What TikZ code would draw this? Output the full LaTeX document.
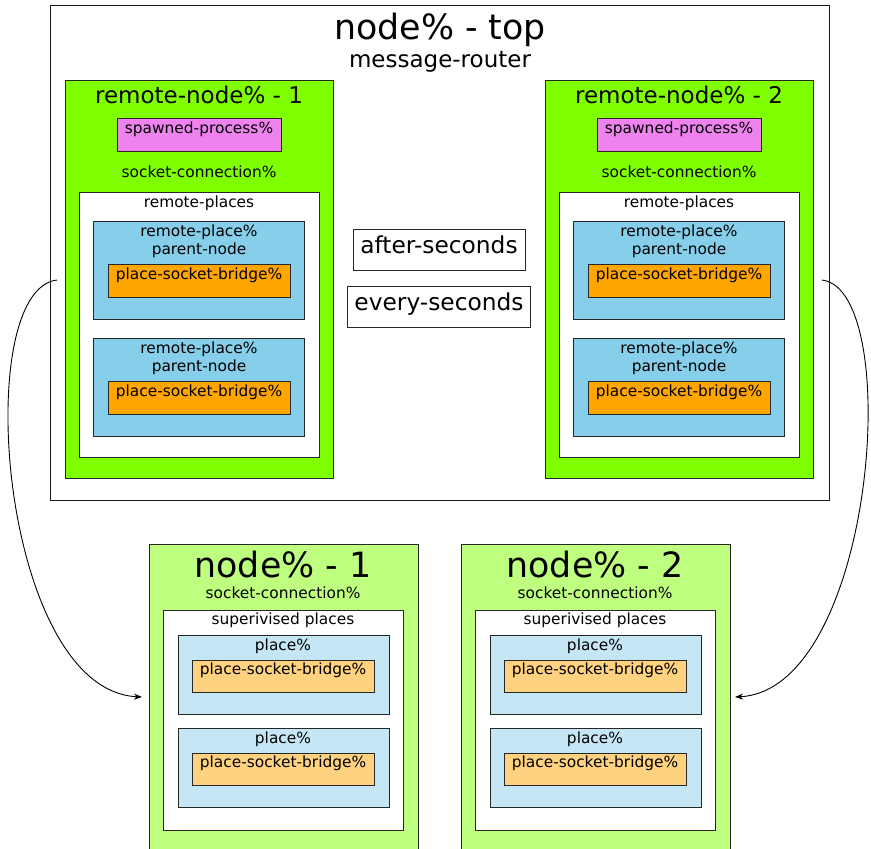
\documentclass[tikz,border=0pt]{standalone}
\usepackage{fontspec}
\setmainfont{DejaVu Sans}
\usepackage{tikz}
\usetikzlibrary{arrows.meta}

\definecolor{remotegreen}{RGB}{127,255,0}
\definecolor{nodegreen}{RGB}{191,255,128}
\definecolor{placeblue}{RGB}{135,206,235}
\definecolor{paleblue}{RGB}{196,230,245}
\definecolor{bridgeorange}{RGB}{255,165,0}
\definecolor{paleorange}{RGB}{255,210,128}
\definecolor{spawnviolet}{RGB}{238,130,238}

\tikzset{
  box/.style={draw=black!85, line width=0.9pt, anchor=north west, inner sep=0pt},
  lbl/.style={anchor=base, inner sep=0pt, font=\fontsize{15.4}{18}\selectfont},
  biglbl/.style={anchor=base, inner sep=0pt, font=\fontsize{34.8}{40}\selectfont},
  midlbl/.style={anchor=base, inner sep=0pt, font=\fontsize{23}{27}\selectfont},
  timer/.style={box, anchor=center, minimum height=41pt, text depth=11pt, font=\fontsize{23.3}{27}\selectfont},
  link/.style={-{Stealth[length=8pt, width=6pt]}, line width=0.9pt},
}

\begin{document}
\begin{tikzpicture}[x=1pt, y=-1pt]
        \useasboundingbox (0,0) rectangle (871,849);

        % the top node
        \node [box, draw=black!90, fill=white, minimum width=779pt, minimum height=495pt] (top) at (50,5) {};
        \node [biglbl] (toptitle) at (440,39) {node\% - top};
        \node [midlbl] (router) at (440,67) {message-router};

        \node [timer, minimum width=172pt] (after) at (439,250) {after-seconds};
        \node [timer, minimum width=183pt] (every) at (439,307) {every-seconds};

        \foreach \i/\dx in {1/0, 2/480} {
          \node [box, fill=remotegreen, minimum width=268pt, minimum height=398pt] (rn\i) at (65+\dx,80) {};
          \node [midlbl] (rntitle\i) at (199+\dx,103) {remote-node\% - \i};
          \node [box, fill=spawnviolet, minimum width=164pt, minimum height=33pt] (spawn\i) at (117+\dx,118) {};
          \node [lbl] (spawntext\i) at (199+\dx,133) {spawned-process\%};
          \node [lbl] (sock\i) at (199+\dx,177) {socket-connection\%};
          \node [box, fill=white, minimum width=240pt, minimum height=265pt] (rplaces\i) at (79+\dx,192) {};
          \node [lbl] (rplacestext\i) at (199+\dx,207) {remote-places};
          \foreach \j/\dy in {1/0, 2/117} {
            \node [box, fill=placeblue, minimum width=211pt, minimum height=98pt] (rp\i\j) at (93+\dx,221+\dy) {};
            \node [lbl] (rptext\i\j) at (199+\dx,236+\dy) {remote-place\%};
            \node [lbl] (parent\i\j) at (199+\dx,254+\dy) {parent-node};
            \node [box, fill=bridgeorange, minimum width=182pt, minimum height=33pt] (rbridge\i\j) at (108+\dx,264+\dy) {};
            \node [lbl] (rbridgetext\i\j) at (199+\dx,279+\dy) {place-socket-bridge\%};
          }
        }

        % the supervised nodes
        \foreach \i/\dx in {1/0, 2/312} {
          \node [box, fill=nodegreen, minimum width=269pt, minimum height=330pt] (n\i) at (149+\dx,544) {};
          \node [biglbl] (ntitle\i) at (283+\dx,577) {node\% - \i};
          \node [lbl] (nsock\i) at (283+\dx,598) {socket-connection\%};
          \node [box, fill=white, minimum width=240pt, minimum height=220pt] (sup\i) at (163+\dx,610) {};
          \node [lbl] (suptext\i) at (283+\dx,624) {superivised places};
          \foreach \j/\dy in {1/0, 2/93} {
            \node [box, fill=paleblue, minimum width=211pt, minimum height=79pt] (pl\i\j) at (178+\dx,635+\dy) {};
            \node [lbl] (pltext\i\j) at (283+\dx,650+\dy) {place\%};
            \node [box, fill=paleorange, minimum width=182pt, minimum height=32pt] (br\i\j) at (192+\dx,660+\dy) {};
            \node [lbl] (brtext\i\j) at (283+\dx,674+\dy) {place-socket-bridge\%};
          }
        }

        \coordinate (from1) at (57,280);
        \coordinate (to1) at (142,697);
        \coordinate (from2) at (822,280);
        \coordinate (to2) at (735,697);

        \draw [link] (from1) .. controls (-30,290) and (0,690) .. (to1);
        \draw [link] (from2) .. controls (905,290) and (875,690) .. (to2);
\end{tikzpicture}
\end{document}
